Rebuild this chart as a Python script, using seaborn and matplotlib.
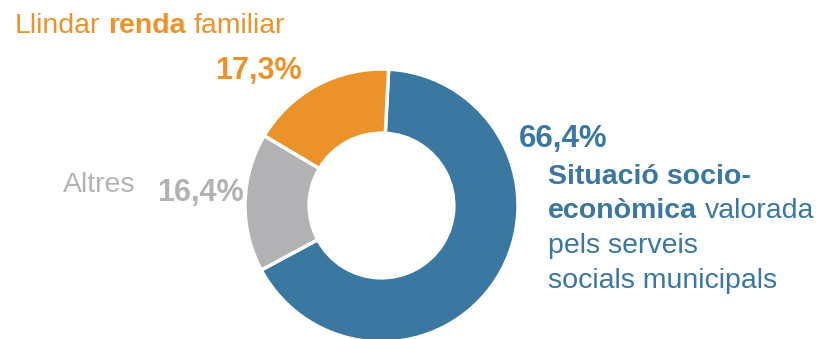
import matplotlib
matplotlib.use("Agg")
import matplotlib.pyplot as plt
import seaborn as sns

sns.set_theme(style="white")
plt.rcParams['font.family'] = ['Liberation Sans', 'DejaVu Sans']

# data
categories = ["Situació socio-econòmica", "Altres", "Llindar renda familiar"]
shares = [66.4, 16.4, 17.3]
colors = ["#3A77A1", "#B2B2B4", "#EC922A"]

W, H, DPI = 818, 339, 100
fig = plt.figure(figsize=(W / DPI, H / DPI), dpi=DPI)

# donut, centre ~ (381.5, 205.5) px, radius ~136.5 px
cx, cy, r = 381.5, 205.5, 136.5
ax = fig.add_axes([(cx - r) / W, (H - cy - r) / H, 2 * r / W, 2 * r / H])
ax.pie(shares, colors=colors, startangle=87, counterclock=False,
       wedgeprops=dict(width=0.47, edgecolor="white", linewidth=2.5))
ax.set_xlim(-1, 1)
ax.set_ylim(-1, 1)
ax.set_aspect("equal")
ax.axis("off")


def pct(v):
    return f"{v:.1f}".replace(".", ",") + "%"


renderer = fig.canvas.get_renderer()


def runs(x, y, parts, color, size=20.5):
    # parts: list of (text, weight); x,y in pixels from top-left, y = baseline
    px = x
    for i, (txt, weight) in enumerate(parts):
        t = fig.text(px / W, 1 - y / H, txt, color=color, fontsize=size,
                     fontweight=weight, va="baseline", ha="left")
        bb = t.get_window_extent(renderer=renderer)
        px += bb.width + 0.278 * size * DPI / 72


# title for orange slice
runs(15, 33, [("Llindar", "normal"), ("renda", "bold"), ("familiar", "normal")], colors[2])

# percentage labels
fig.text(215 / W, 1 - 79.5 / H, pct(shares[2]), color=colors[2], fontsize=22,
         fontweight="bold", va="baseline")
fig.text(519 / W, 1 - 146.5 / H, pct(shares[0]), color=colors[0], fontsize=22.5,
         fontweight="bold", va="baseline")
fig.text(157 / W, 1 - 201.5 / H, pct(shares[1]), color=colors[1], fontsize=22,
         fontweight="bold", va="baseline")
fig.text(63 / W, 1 - 191.5 / H, "Altres", color="#B4B4B6", fontsize=20.5,
         va="baseline")

# blue description
runs(548, 183.5, [("Situació socio-", "bold")], colors[0])
runs(548, 218, [("econòmica", "bold"), ("valorada", "normal")], colors[0])
runs(548, 253, [("pels serveis", "normal")], colors[0])
runs(548, 288, [("socials municipals", "normal")], colors[0])

fig.savefig("out.png", dpi=DPI)
